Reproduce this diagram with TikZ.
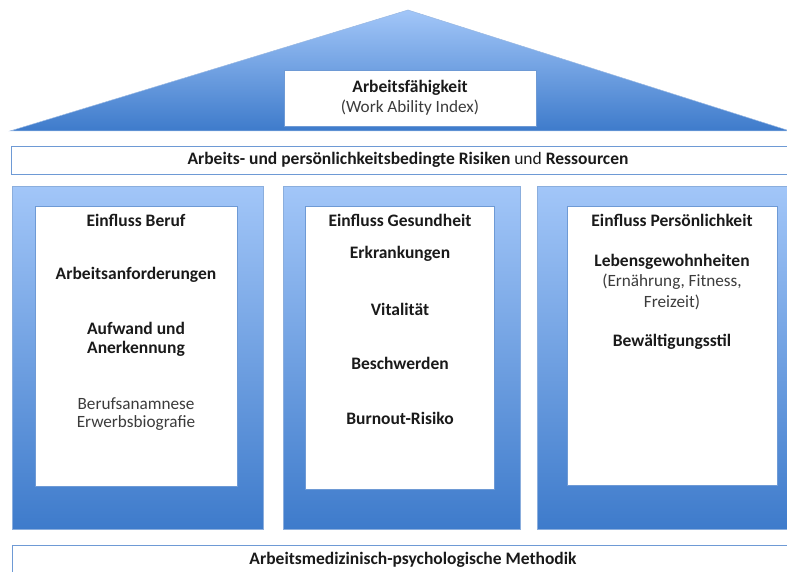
\documentclass[tikz,border=0pt]{standalone}
\usepackage{fontspec}
\setmainfont{Carlito}
\definecolor{lightb}{HTML}{A2C6F8}
\definecolor{darkb}{HTML}{3E7BCB}
\definecolor{edgeb}{HTML}{6E9AD5}
\definecolor{txt}{HTML}{1A1A1A}
\tikzset{
  colbox/.style={draw=edgeb!80, line width=0.6pt, top color=lightb, bottom color=darkb, anchor=north west, inner sep=0pt},
  whitebox/.style={draw=edgeb, line width=0.9pt, fill=white, anchor=north west, inner sep=0pt},
  band/.style={draw=edgeb, line width=1pt, fill=white, anchor=north west, inner sep=0pt},
  bt/.style={font=\fontsize{17.5}{20}\selectfont\bfseries, text=txt, inner sep=0pt},
  rt/.style={font=\fontsize{17.2}{20}\selectfont, text=txt!85, inner sep=0pt}
}
\begin{document}
\begin{tikzpicture}[x=1pt,y=-1pt]
\useasboundingbox (0,0) rectangle (787,572);
\clip (0,0) rectangle (787,572);
% roof
\shade[top color=lightb, bottom color=darkb, draw=edgeb!70, line width=0.5pt] (408,10) -- (790,131) -- (10,131) -- cycle;
\node[whitebox, minimum width=252pt, minimum height=56pt] (title) at (284,70) {};
\node[bt] (t1) at (410,88) {Arbeitsfähigkeit};
\node[rt] (t2) at (410,108) {(Work Ability Index)};
% band
\node[band, minimum width=790pt, minimum height=28pt] (band1) at (11,146) {};
\node[bt] (b1t) at (408,160) {Arbeits- und persönlichkeitsbedingte Risiken \mdseries und \bfseries Ressourcen};
% columns
\node[colbox, minimum width=251pt, minimum height=343pt] (c1) at (12,186) {};
\node[colbox, minimum width=237pt, minimum height=343pt] (c2) at (283,186) {};
\node[colbox, minimum width=260pt, minimum height=343pt] (c3) at (537,186) {};
\node[whitebox, minimum width=202pt, minimum height=280pt] (w1) at (35,206) {};
\node[whitebox, minimum width=189pt, minimum height=283pt] (w2) at (305,206) {};
\node[whitebox, minimum width=210pt, minimum height=279pt] (w3) at (567,206) {};
% column 1
\node[bt] (h1) at (136,220) {Einfluss Beruf};
\node[bt] (a1) at (136,275) {Arbeitsanforderungen};
\node[bt] (a2) at (136,328) {Aufwand und};
\node[bt] (a3) at (136,349) {Anerkennung};
\node[rt] (a4) at (136,404) {Berufsanamnese};
\node[rt] (a5) at (136,423) {Erwerbsbiografie};
% column 2
\node[bt] (h2) at (400,220) {Einfluss Gesundheit};
\node[bt] (g1) at (400,254) {Erkrankungen};
\node[bt] (g2) at (400,309) {Vitalität};
\node[bt] (g3) at (400,363) {Beschwerden};
\node[bt] (g4) at (400,418) {Burnout-Risiko};
% column 3
\node[bt] (h3) at (672,220) {Einfluss Persönlichkeit};
\node[bt] (p1) at (672,262) {Lebensgewohnheiten};
\node[rt] (p2) at (672,282) {(Ernährung, Fitness,};
\node[rt] (p3) at (672,302) {Freizeit)};
\node[bt] (p4) at (672,342) {Bewältigungsstil};
% bottom band
\node[band, minimum width=790pt, minimum height=30pt] (band2) at (12,545) {};
\node[bt] (b2t) at (413,560) {Arbeitsmedizinisch-psychologische Methodik};
\end{tikzpicture}
\end{document}
